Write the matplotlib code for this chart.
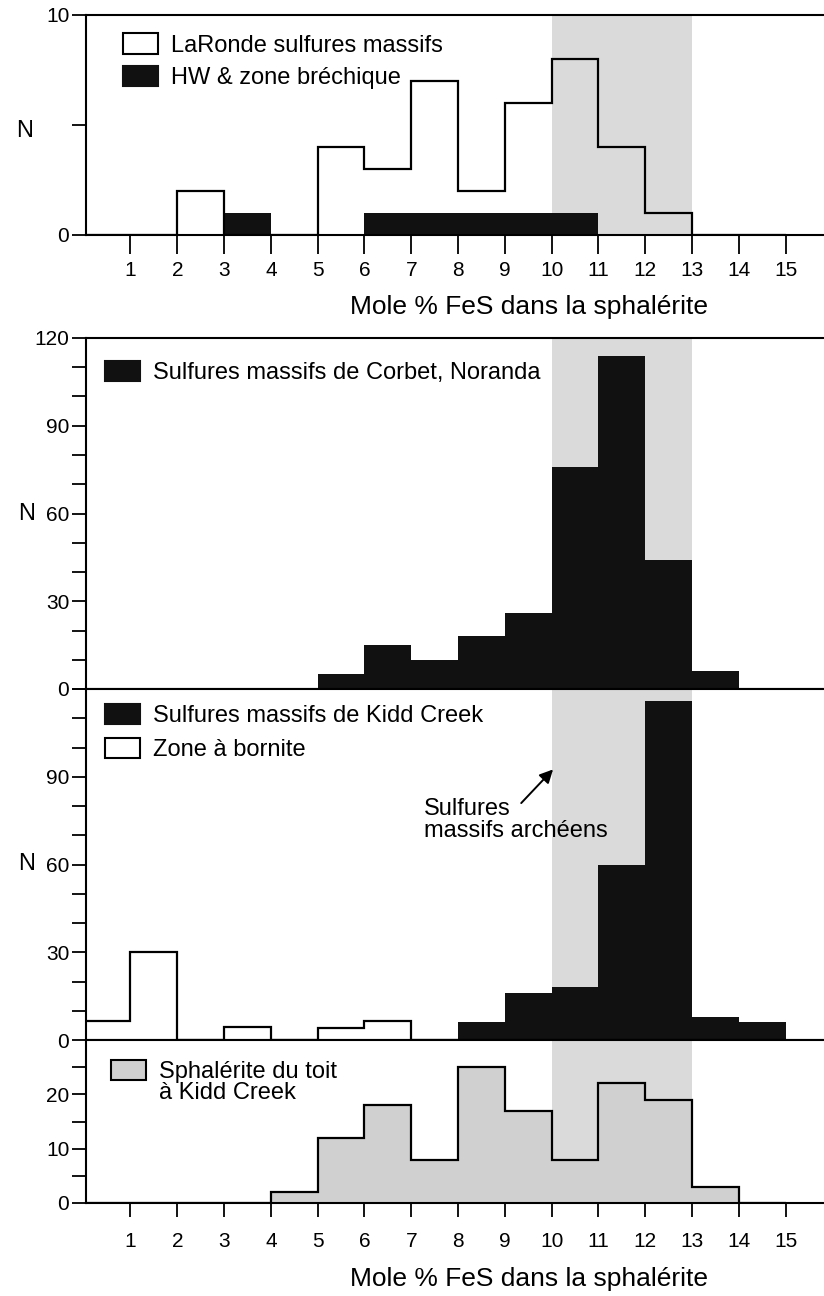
import numpy as np
import matplotlib
matplotlib.use("Agg")
import matplotlib.pyplot as plt
from matplotlib.patches import Patch

plt.rcParams['font.family'] = ['Liberation Sans', 'DejaVu Sans']

# ---------------- data ----------------
bin_edges = np.arange(0, 16)          # Mole % FeS bins 0-1 ... 14-15
x_ticks = list(range(1, 16))

laronde = [0, 0, 2, 0, 0, 4, 3, 7, 2, 6, 8, 4, 1, 0, 0]
hw_breche = [0, 0, 0, 1, 0, 0, 1, 1, 1, 1, 1, 0, 0, 0, 0]
corbet = [0, 0, 0, 0, 0, 5, 15, 10, 18, 26, 76, 114, 44, 6, 0]
kidd = [0, 0, 0, 0, 0, 0, 0, 0, 6, 16, 18, 60, 116, 8, 6]
bornite = [6.5, 30, 0, 4.5, 0, 4, 6.5, 0, 0, 0, 0, 0, 0, 0, 0]
toit = [0, 0, 0, 0, 2, 12, 18, 8, 25, 17, 8, 22, 19, 3, 0]

archean_range = (10, 13)

lbl_laronde = "LaRonde sulfures massifs"
lbl_hw = "HW & zone bréchique"
lbl_corbet = "Sulfures massifs de Corbet, Noranda"
lbl_kidd = "Sulfures massifs de Kidd Creek"
lbl_bornite = "Zone à bornite"
lbl_toit_1 = "Sphalérite du toit"
lbl_toit_2 = "à Kidd Creek"
xlabel = "Mole % FeS dans la sphalérite"
annot = "Sulfures\nmassifs archéens"

# ---------------- style ----------------
BAND = "#dadada"
FILLGREY = "#d0d0d0"
BLACK = "#111111"
LW = 1.6
TICK_FS = 15
LEG_FS = 17
LAB_FS = 19

W_PX, H_PX = 824, 1296
fig = plt.figure(figsize=(W_PX / 100, H_PX / 100), dpi=100)
LEFT = 86 / W_PX


def axes_px(top, bottom):
    return fig.add_axes([LEFT, 1 - bottom / H_PX, 1 - LEFT, (bottom - top) / H_PX])


def style(ax, ymax, yt_major, yt_minor, show_x):
    ax.set_xlim(0.05, 15.82)
    ax.set_ylim(0, ymax)
    ax.spines['right'].set_visible(False)
    for s in ('left', 'top', 'bottom'):
        ax.spines[s].set_linewidth(1.5)
        ax.spines[s].set_zorder(5)
    ax.set_yticks(yt_major)
    ax.set_yticks(yt_minor, minor=True)
    ax.tick_params(axis='y', which='both', direction='out', length=10,
                   width=1.3, labelsize=TICK_FS, pad=2)
    ax.axvspan(*archean_range, color=BAND, lw=0, zorder=0)
    if show_x:
        ax.set_xticks(x_ticks)
    else:
        ax.set_xticks([])


def legend(ax, handles, labels, x, y, spacing=0.25):
    leg = ax.legend(handles, labels, loc='upper left', bbox_to_anchor=(x, y),
                    frameon=False, fontsize=LEG_FS, borderpad=0, borderaxespad=0,
                    handlelength=1.48, handleheight=0.93, handletextpad=0.55,
                    labelspacing=spacing)
    return leg


# ---------------- panel 1 : LaRonde ----------------
ax1 = axes_px(15, 235)
style(ax1, 10, [0, 10], [5], True)
ax1.tick_params(axis='x', direction='out', length=14, width=1.3,
                labelsize=TICK_FS, pad=5)
ax1.stairs(hw_breche, bin_edges, baseline=0, fill=True, color=BLACK, zorder=2)
ax1.stairs(laronde, bin_edges, baseline=0, fill=False, color='black', lw=LW, zorder=3)
ax1.set_xlabel(xlabel, fontsize=LAB_FS)
ax1.xaxis.set_label_coords(0.6, -0.274)
ax1.set_ylabel('N', rotation=0, fontsize=17, ha='center', va='center')
ax1.yaxis.set_label_coords(-0.083, 0.473)
legend(ax1,
       [Patch(facecolor='white', edgecolor='black', lw=1.5),
        Patch(facecolor=BLACK, edgecolor=BLACK, lw=1.5)],
       [lbl_laronde, lbl_hw], 0.050, 0.916, spacing=0.41)

# ---------------- panel 2 : Corbet ----------------
ax2 = axes_px(338, 689)
style(ax2, 120, [0, 30, 60, 90, 120],
      [10, 20, 40, 50, 70, 80, 100, 110], False)
ax2.stairs(corbet, bin_edges, baseline=0, fill=True, color=BLACK, zorder=2)
ax2.set_ylabel('N', rotation=0, fontsize=17, ha='center', va='center')
ax2.yaxis.set_label_coords(-0.081, 0.5)
legend(ax2, [Patch(facecolor=BLACK, edgecolor=BLACK, lw=1.5)], [lbl_corbet],
       0.0257, 0.935)

# ---------------- panel 3 : Kidd Creek ----------------
ax3 = axes_px(689, 1040)
style(ax3, 120, [0, 30, 60, 90],
      [10, 20, 40, 50, 70, 80, 100, 110, 120], False)
ax3.stairs(kidd, bin_edges, baseline=0, fill=True, color=BLACK, zorder=2)
ax3.stairs(bornite, bin_edges, baseline=0, fill=False, color='black', lw=LW, zorder=3)
ax3.set_ylabel('N', rotation=0, fontsize=17, ha='center', va='center')
ax3.yaxis.set_label_coords(-0.081, 0.5)
legend(ax3,
       [Patch(facecolor=BLACK, edgecolor=BLACK, lw=1.5),
        Patch(facecolor='white', edgecolor='black', lw=1.5)],
       [lbl_kidd, lbl_bornite], 0.0257, 0.958, spacing=0.47)
ax3.text(7.28, 75.3, annot, fontsize=LEG_FS, ha='left', va='center',
         linespacing=1.0, zorder=6)
ax3.annotate('', xy=(10.03, 92.5), xytext=(9.35, 81),
             arrowprops=dict(arrowstyle='-|>', color='black', lw=1.4,
                             mutation_scale=20, shrinkA=0, shrinkB=0),
             zorder=6)

# ---------------- panel 4 : toit Kidd Creek ----------------
ax4 = axes_px(1040, 1203)
style(ax4, 30, [0, 10, 20], [5, 15, 25], True)
ax4.tick_params(axis='x', direction='out', length=10, width=1.3,
                labelsize=TICK_FS, pad=11)
ax4.stairs(toit, bin_edges, baseline=0, fill=True, facecolor=FILLGREY,
           edgecolor='black', lw=LW, zorder=2)
ax4.set_xlabel(xlabel, fontsize=LAB_FS)
ax4.xaxis.set_label_coords(0.6, -0.393)
legend(ax4,
       [Patch(facecolor=FILLGREY, edgecolor='black', lw=1.5),
        Patch(facecolor='none', edgecolor='none')],
       [lbl_toit_1, lbl_toit_2], 0.034, 0.876, spacing=-0.1)

fig.savefig('out.png', dpi=100)
